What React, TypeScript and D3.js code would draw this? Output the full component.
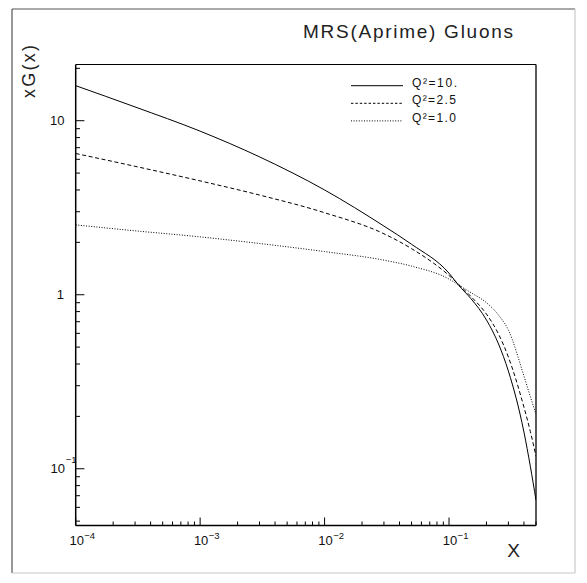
import React from "react";
import * as d3 from "d3";

const xValues = [1e-4, 3e-4, 1e-3, 3e-3, 1e-2, 3e-2, 0.05, 0.1, 0.12, 0.15, 0.2, 0.25, 0.3, 0.4, 0.45, 0.5];
const gluonQ10 = [15.9, 12.0, 8.71, 6.2, 4.0, 2.48, 1.95, 1.33, 1.13, 0.95, 0.716, 0.521, 0.364, 0.1625, 0.1035, 0.066];
const gluonQ25 = [6.48, 5.47, 4.51, 3.74, 2.96, 2.24, 1.84, 1.29, 1.143, 0.977, 0.774, 0.594, 0.438, 0.226, 0.164, 0.118];
const gluonQ10b = [2.52, 2.33, 2.15, 1.97, 1.77, 1.58, 1.46, 1.23, 1.135, 1.028, 0.9, 0.764, 0.627, 0.341, 0.26, 0.206];

const seriesLabels = ["Q\u00b2=10.", "Q\u00b2=2.5", "Q\u00b2=1.0"];
const seriesDash = ["none", "4,2.6", "1,1.6"];
const xMajorExps = [-4, -3, -2, -1];
const yMajorValues = [0.1, 1, 10];

const W = 587;
const H = 583;
const left = 75.7;
const right = 536;
const top = 64.5;
const bottom = 525.5;

export default function App() {
  const x = d3.scaleLog().domain([1e-4, 0.5]).range([left, right]);
  const y = d3.scaleLog().domain([0.0472, 21.04]).range([bottom, top]);

  const series = [gluonQ10, gluonQ25, gluonQ10b];
  const line = d3
    .line<number>()
    .x((_, i) => x(xValues[i]))
    .y((d) => y(d))
    .curve(d3.curveMonotoneX);

  const xTicks: { v: number; major: boolean }[] = [];
  for (let e = -4; e <= -1; e++) {
    for (let m = 1; m <= 9; m++) {
      const v = m * Math.pow(10, e);
      if (v <= 0.5 + 1e-9) xTicks.push({ v, major: m === 1 });
    }
  }
  const yTicks: { v: number; major: boolean }[] = [];
  for (let e = -2; e <= 1; e++) {
    for (let m = 1; m <= 9; m++) {
      const v = m * Math.pow(10, e);
      const [d0, d1] = y.domain();
      if (v >= d0 && v <= d1) yTicks.push({ v, major: m === 1 });
    }
  }

  const font = "'Liberation Sans', Arial, Helvetica, sans-serif";

  return (
    <svg
      width={W}
      height={H}
      style={{ position: "absolute", left: 0, top: 0, background: "#fff" }}
      fontFamily={font}
    >
      <rect x={0} y={0} width={W} height={H} fill="#fff" />
      {/* outer frame */}
      <line x1={12} y1={9} x2={575} y2={9} stroke="#555" strokeWidth={1.2} />
      <line x1={12} y1={9} x2={12} y2={573} stroke="#555" strokeWidth={1.2} />
      <line x1={12} y1={573} x2={575} y2={573} stroke="#c8c8c8" strokeWidth={1.2} />
      <line x1={575} y1={9} x2={575} y2={573} stroke="#c8c8c8" strokeWidth={1.2} />

      {/* title */}
      <text x={303} y={38} fontSize={19} fill="#222" textLength={210} lengthAdjust="spacing">
        MRS(Aprime) Gluons
      </text>

      {/* plot frame */}
      <line x1={left} y1={top} x2={right} y2={top} stroke="#000" strokeWidth={1} />
      <line x1={right} y1={top} x2={right} y2={bottom} stroke="#000" strokeWidth={1.3} />
      <line x1={left} y1={top} x2={left} y2={bottom} stroke="#000" strokeWidth={1.5} />
      <line x1={left} y1={bottom} x2={right} y2={bottom} stroke="#000" strokeWidth={1.5} />

      {/* x ticks */}
      {xTicks.map((t, i) => (
        <line
          key={"xt" + i}
          x1={x(t.v)}
          x2={x(t.v)}
          y1={bottom}
          y2={bottom - (t.major ? 8 : 4)}
          stroke="#000"
          strokeWidth={1}
        />
      ))}
      {/* y ticks */}
      {yTicks.map((t, i) => (
        <line
          key={"yt" + i}
          x1={left}
          x2={left + (t.major ? 8.7 : 4.3)}
          y1={y(t.v)}
          y2={y(t.v)}
          stroke="#000"
          strokeWidth={1}
        />
      ))}

      {/* x labels */}
      {xMajorExps.map((e) => {
        const px = x(Math.pow(10, e));
        return (
          <g key={"xl" + e} fill="#111">
            <text x={px + 1} y={545} fontSize={13} textAnchor="middle">
              10
            </text>
            <text x={px + 8.6} y={538.5} fontSize={9.5}>
              {"\u2212" + Math.abs(e)}
            </text>
          </g>
        );
      })}

      {/* y labels */}
      {yMajorValues.map((v) => {
        const e = Math.round(Math.log10(v));
        const py = y(v);
        if (e === 0)
          return (
            <text key={"yl" + v} x={64} y={py + 4.7} fontSize={13} textAnchor="end" fill="#111">
              1
            </text>
          );
        if (e === 1)
          return (
            <text key={"yl" + v} x={64.5} y={py + 4.7} fontSize={13} textAnchor="end" fill="#111">
              10
            </text>
          );
        return (
          <g key={"yl" + v} fill="#111">
            <text x={65} y={py + 4.7} fontSize={13} textAnchor="end">
              10
            </text>
            <text x={65.8} y={py - 5.5} fontSize={9.5}>
              {"\u2212" + Math.abs(e)}
            </text>
          </g>
        );
      })}

      {/* axis titles */}
      <text x={513.5} y={557} fontSize={19} textAnchor="middle" fill="#222">
        X
      </text>
      <text
        transform={`translate(35,98) rotate(-90)`}
        fontSize={18}
        fill="#222"
        textLength={53}
        lengthAdjust="spacing"
      >
        xG(x)
      </text>

      {/* curves */}
      <defs>
        <clipPath id="plotclip">
          <rect x={left} y={top} width={right - left} height={bottom - top} />
        </clipPath>
      </defs>
      <g clipPath="url(#plotclip)">
        {series.map((s, i) => (
          <path
            key={"s" + i}
            d={line(s) || ""}
            fill="none"
            stroke="#000"
            strokeWidth={1}
            strokeDasharray={seriesDash[i]}
          />
        ))}
      </g>

      {/* legend */}
      {seriesLabels.map((lab, i) => {
        const by = 86.5 + i * 17.6;
        return (
          <g key={"lg" + i}>
            <line
              x1={351}
              x2={403}
              y1={by - 0.8}
              y2={by - 0.8}
              stroke="#000"
              strokeWidth={1}
              strokeDasharray={i === 1 ? "2.4,2" : seriesDash[i]}
            />
            <text x={412} y={by} fontSize={12} fill="#111" textLength={i === 0 ? 45 : 44} lengthAdjust="spacing">
              {lab}
            </text>
          </g>
        );
      })}
    </svg>
  );
}
